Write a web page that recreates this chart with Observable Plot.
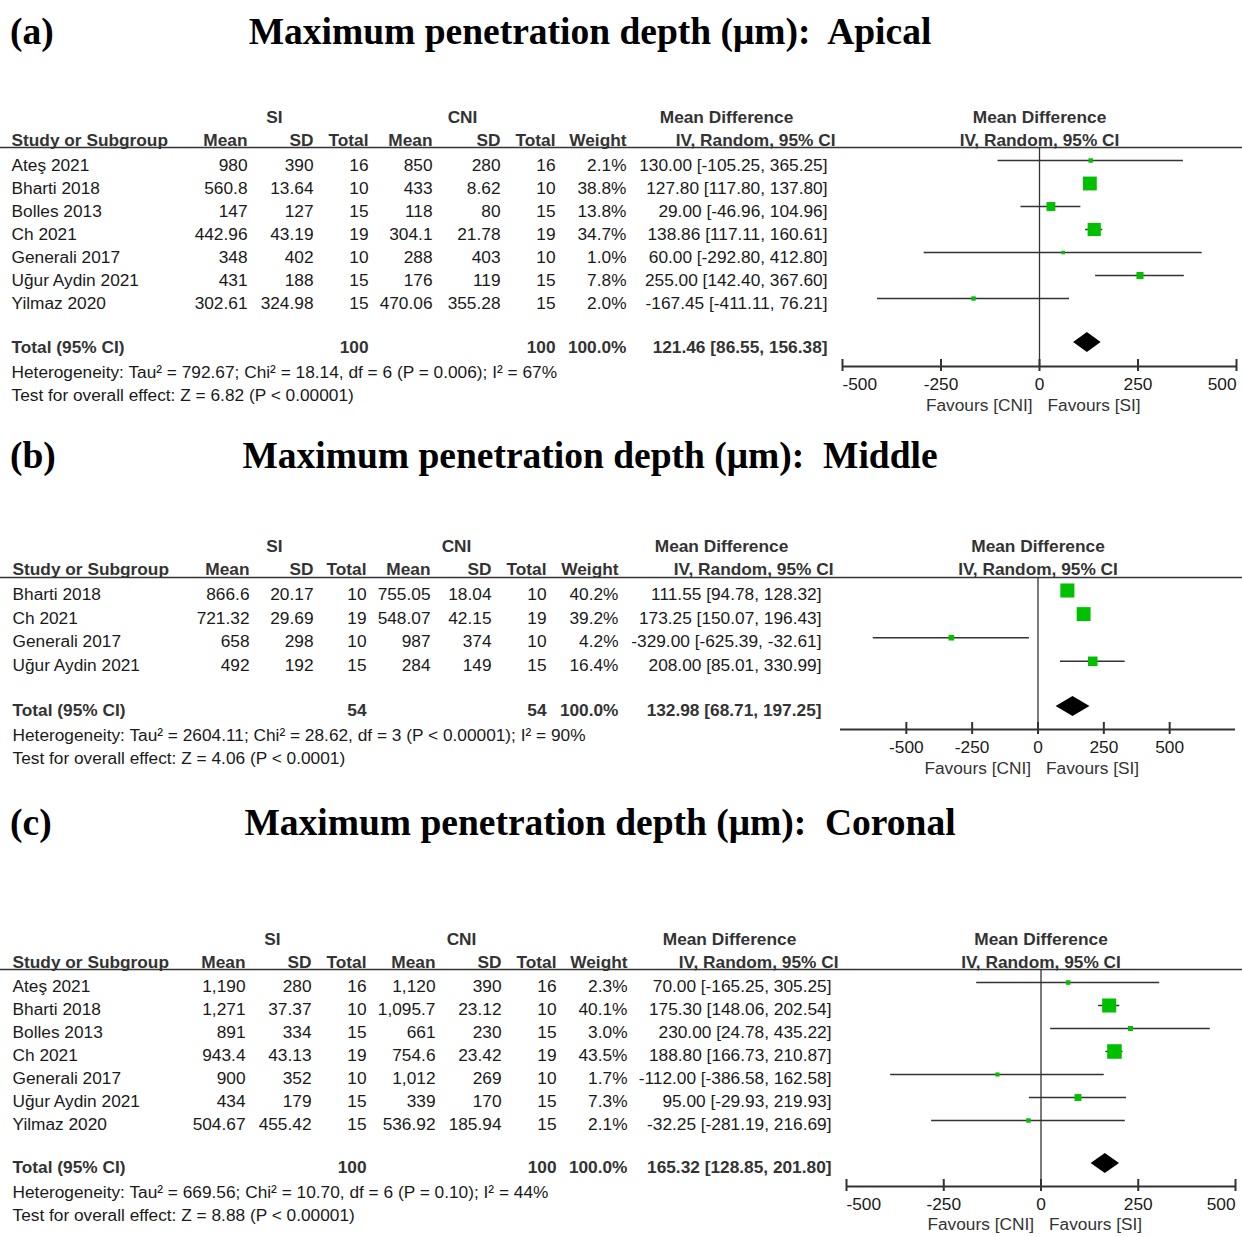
<!DOCTYPE html>
<html><head><meta charset="utf-8">
<script src="https://cdn.jsdelivr.net/npm/d3@7"></script>
<script src="https://cdn.jsdelivr.net/npm/@observablehq/plot@0.6"></script>
<style>
body{margin:0;background:#fff;}
#root{position:relative;width:1242px;height:1237px;overflow:hidden;background:#fff;}
.ttl{position:absolute;font-family:"Liberation Serif","Times New Roman",serif;font-weight:bold;font-size:37.5px;color:#000;white-space:pre;line-height:1;}
.panel{position:absolute;left:0;}
.panel svg{overflow:visible;}
</style></head><body><div id="root"></div>
<script>
// ---------------- DATA ----------------
// (a) Apical
const apicalStudies = ["Ateş 2021","Bharti 2018","Bolles 2013","Ch 2021","Generali 2017","Uğur Aydin 2021","Yilmaz 2020"];
const apicalSiMean  = ["980","560.8","147","442.96","348","431","302.61"];
const apicalSiSD    = ["390","13.64","127","43.19","402","188","324.98"];
const apicalSiN     = [16,10,15,19,10,15,15];
const apicalCniMean = ["850","433","118","304.1","288","176","470.06"];
const apicalCniSD   = ["280","8.62","80","21.78","403","119","355.28"];
const apicalCniN    = [16,10,15,19,10,15,15];
const apicalWeight  = [2.1,38.8,13.8,34.7,1.0,7.8,2.0];
const apicalMD      = [130.00,127.80,29.00,138.86,60.00,255.00,-167.45];
const apicalLo      = [-105.25,117.80,-46.96,117.11,-292.80,142.40,-411.11];
const apicalHi      = [365.25,137.80,104.96,160.61,412.80,367.60,76.21];
const apicalTotal   = [121.46,86.55,156.38];
const apicalHet     = "Heterogeneity: Tau² = 792.67; Chi² = 18.14, df = 6 (P = 0.006); I² = 67%";
const apicalTest    = "Test for overall effect: Z = 6.82 (P < 0.00001)";

// (b) Middle
const middleStudies = ["Bharti 2018","Ch 2021","Generali 2017","Uğur Aydin 2021"];
const middleSiMean  = ["866.6","721.32","658","492"];
const middleSiSD    = ["20.17","29.69","298","192"];
const middleSiN     = [10,19,10,15];
const middleCniMean = ["755.05","548.07","987","284"];
const middleCniSD   = ["18.04","42.15","374","149"];
const middleCniN    = [10,19,10,15];
const middleWeight  = [40.2,39.2,4.2,16.4];
const middleMD      = [111.55,173.25,-329.00,208.00];
const middleLo      = [94.78,150.07,-625.39,85.01];
const middleHi      = [128.32,196.43,-32.61,330.99];
const middleTotal   = [132.98,68.71,197.25];
const middleHet     = "Heterogeneity: Tau² = 2604.11; Chi² = 28.62, df = 3 (P < 0.00001); I² = 90%";
const middleTest    = "Test for overall effect: Z = 4.06 (P < 0.0001)";

// (c) Coronal
const coronalStudies = ["Ateş 2021","Bharti 2018","Bolles 2013","Ch 2021","Generali 2017","Uğur Aydin 2021","Yilmaz 2020"];
const coronalSiMean  = ["1,190","1,271","891","943.4","900","434","504.67"];
const coronalSiSD    = ["280","37.37","334","43.13","352","179","455.42"];
const coronalSiN     = [16,10,15,19,10,15,15];
const coronalCniMean = ["1,120","1,095.7","661","754.6","1,012","339","536.92"];
const coronalCniSD   = ["390","23.12","230","23.42","269","170","185.94"];
const coronalCniN    = [16,10,15,19,10,15,15];
const coronalWeight  = [2.3,40.1,3.0,43.5,1.7,7.3,2.1];
const coronalMD      = [70.00,175.30,230.00,188.80,-112.00,95.00,-32.25];
const coronalLo      = [-165.25,148.06,24.78,166.73,-386.58,-29.93,-281.19];
const coronalHi      = [305.25,202.54,435.22,210.87,162.58,219.93,216.69];
const coronalTotal   = [165.32,128.85,201.80];
const coronalHet     = "Heterogeneity: Tau² = 669.56; Chi² = 10.70, df = 6 (P = 0.10); I² = 44%";
const coronalTest    = "Test for overall effect: Z = 8.88 (P < 0.00001)";

const totalWeight = 100.0;
const axisTicks = [-500,-250,0,250,500];
const titles = ["Maximum penetration depth (μm):  Apical","Maximum penetration depth (μm):  Middle","Maximum penetration depth (μm):  Coronal"];
const panelLabels = ["(a)","(b)","(c)"];

// ---------------- LAYOUT / STYLE ----------------
const FONT = '"Liberation Sans", Arial, Helvetica, sans-serif';
const FS = 17.3;
const GREEN = "#00c000";
const INK = "#1a1a1a";
const HEAD = "#333333";
const LINE = "#333333";

const layouts = [
  {top:100, h:320, rowTop:165, step:23, si:117, hdr:140, line:147, total:347, het:372, test:395,
   axis:366, tickLab:384, fav:405, mdy:-5, half:10, xDomain:[-500,500], xRange:[842,1236], axisExt:[-500,500],
   titleX:590, titleBase:44,
   cols:{study:11, siMean:247, siSD:313, siN:368, cniMean:432, cniSD:500, cniN:555, weight:626, md:827,
         ivHdr:835, mdHdr:726, si:274, cni:462}},
  {top:520, h:265, rowTop:594, step:23.6, si:546, hdr:569, line:577, total:710, het:735, test:758,
   axis:729, tickLab:747, fav:768, mdy:-4, half:10, xDomain:[-750,750], xRange:[840,1235], axisExt:[-750,750],
   titleX:590, titleBase:468,
   cols:{study:12, siMean:249, siSD:313, siN:366, cniMean:430, cniSD:491, cniN:546, weight:618, md:821,
         ivHdr:833, mdHdr:721, si:274, cni:456}},
  {top:915, h:322, rowTop:986, step:23, si:939, hdr:962, line:969, total:1167, het:1192, test:1215,
   axis:1186, tickLab:1204, fav:1224, mdy:-4, half:10, xDomain:[-500,500], xRange:[846,1235], axisExt:[-500,500],
   titleX:600, titleBase:835,
   cols:{study:12, siMean:245, siSD:311, siN:366, cniMean:435, cniSD:501, cniN:556, weight:627, md:831,
         ivHdr:838, mdHdr:729, si:272, cni:461}}
];

const datasets = [
  {studies:apicalStudies, siMean:apicalSiMean, siSD:apicalSiSD, siN:apicalSiN, cniMean:apicalCniMean, cniSD:apicalCniSD, cniN:apicalCniN,
   weight:apicalWeight, md:apicalMD, lo:apicalLo, hi:apicalHi, total:apicalTotal, het:apicalHet, test:apicalTest},
  {studies:middleStudies, siMean:middleSiMean, siSD:middleSiSD, siN:middleSiN, cniMean:middleCniMean, cniSD:middleCniSD, cniN:middleCniN,
   weight:middleWeight, md:middleMD, lo:middleLo, hi:middleHi, total:middleTotal, het:middleHet, test:middleTest},
  {studies:coronalStudies, siMean:coronalSiMean, siSD:coronalSiSD, siN:coronalSiN, cniMean:coronalCniMean, cniSD:coronalCniSD, cniN:coronalCniN,
   weight:coronalWeight, md:coronalMD, lo:coronalLo, hi:coronalHi, total:coronalTotal, het:coronalHet, test:coronalTest}
];

// ---------------- BUILD ----------------
const f2 = v => v.toFixed(2);
const ciText = (m, l, h) => `${f2(m)} [${f2(l)}, ${f2(h)}]`;
const sum = a => a.reduce((s, v) => s + v, 0);

function buildPanel(d, L) {
  const rows = d.studies.map((s, i) => ({
    i, study: s, siMean: d.siMean[i], siSD: d.siSD[i], siN: String(d.siN[i]),
    cniMean: d.cniMean[i], cniSD: d.cniSD[i], cniN: String(d.cniN[i]),
    weight: d.weight[i], wTxt: d.weight[i].toFixed(1) + "%",
    md: d.md[i], lo: d.lo[i], hi: d.hi[i], ci: ciText(d.md[i], d.lo[i], d.hi[i])
  }));
  const R = px => (px - L.rowTop) / L.step;
  const C = L.cols;
  const yTot = R(L.total);
  const one = (t, y, dx, anchor, extra = {}) =>
    Plot.text([t], {y: () => y, text: v => v, frameAnchor: "left", dx, textAnchor: anchor, fill: INK, fontSize: FS, ...extra});
  const col = (key, dx, anchor) =>
    Plot.text(rows, {y: "i", text: key, frameAnchor: "left", dx, textAnchor: anchor, fill: INK, fontSize: FS});
  const bold = {fontWeight: "bold", fill: HEAD};
  const yS = R(L.si), yH = R(L.hdr);

  const diamond = [
    {x: d.total[1], y1: yTot, y2: yTot},
    {x: d.total[0], y1: yTot - L.half / L.step, y2: yTot + L.half / L.step},
    {x: d.total[2], y1: yTot, y2: yTot}
  ];
  const leftEnd = axisTicks.filter(t => t === L.axisExt[0]);
  const rightEnd = axisTicks.filter(t => t === L.axisExt[1]);
  const midTicks = axisTicks.filter(t => t !== L.axisExt[0] && t !== L.axisExt[1]);
  const tickLab = (data, anchor) =>
    Plot.text(data, {x: v => v, y: () => R(L.tickLab), text: v => String(v), textAnchor: anchor, fill: INK, fontSize: FS});

  const marks = [
    // header rule across the full width
    Plot.ruleY([R(L.line)], {stroke: LINE, strokeWidth: 1.5}),
    // group headers
    one("SI", yS, C.si, "middle", bold),
    one("CNI", yS, C.cni, "middle", bold),
    one("Mean Difference", yS, C.mdHdr, "middle", bold),
    Plot.text(["Mean Difference"], {x: () => 0, y: () => yS, text: v => v, textAnchor: "middle", fontSize: FS, ...bold}),
    // column headers
    one("Study or Subgroup", yH, C.study, "start", bold),
    one("Mean", yH, C.siMean, "end", bold),
    one("SD", yH, C.siSD, "end", bold),
    one("Total", yH, C.siN, "end", bold),
    one("Mean", yH, C.cniMean, "end", bold),
    one("SD", yH, C.cniSD, "end", bold),
    one("Total", yH, C.cniN, "end", bold),
    one("Weight", yH, C.weight, "end", bold),
    one("IV, Random, 95% CI", yH, C.ivHdr, "end", bold),
    Plot.text(["IV, Random, 95% CI"], {x: () => 0, y: () => yH, text: v => v, textAnchor: "middle", fontSize: FS, ...bold}),
    // study rows
    col("study", C.study, "start"),
    col("siMean", C.siMean, "end"),
    col("siSD", C.siSD, "end"),
    col("siN", C.siN, "end"),
    col("cniMean", C.cniMean, "end"),
    col("cniSD", C.cniSD, "end"),
    col("cniN", C.cniN, "end"),
    col("wTxt", C.weight, "end"),
    col("ci", C.md, "end"),
    // total row
    one("Total (95% CI)", yTot, C.study, "start", bold),
    one(String(sum(d.siN)), yTot, C.siN, "end", bold),
    one(String(sum(d.cniN)), yTot, C.cniN, "end", bold),
    one(totalWeight.toFixed(1) + "%", yTot, C.weight, "end", bold),
    one(ciText(...d.total), yTot, C.md, "end", bold),
    // heterogeneity and overall test
    one(d.het, R(L.het), C.study, "start"),
    one(d.test, R(L.test), C.study, "start"),
    // forest: zero line
    Plot.ruleX([0], {x: v => v, y1: () => R(L.line), y2: () => R(L.axis), stroke: LINE, strokeWidth: 1.3}),
    // confidence intervals
    Plot.ruleY(rows, {y: "i", x1: "lo", x2: "hi", dy: L.mdy, stroke: LINE, strokeWidth: 1.5}),
    // study squares
    Plot.dot(rows, {x: "md", y: "i", r: "weight", symbol: "square", fill: GREEN, dy: L.mdy}),
    // pooled diamond
    Plot.areaY(diamond, {x: "x", y1: "y1", y2: "y2", fill: "#000", dy: L.mdy}),
    // axis
    Plot.ruleY([R(L.axis)], {x1: L.axisExt[0], x2: L.axisExt[1], stroke: LINE, strokeWidth: 2}),
    Plot.ruleX(axisTicks, {x: v => v, y1: () => R(L.axis - 7), y2: () => R(L.axis + 5), stroke: LINE, strokeWidth: 2}),
    tickLab(midTicks, "middle"),
    tickLab(leftEnd, "start"),
    tickLab(rightEnd, "end"),
    Plot.text(["Favours [CNI]"], {x: () => 0, y: () => R(L.fav), text: v => v, textAnchor: "end", dx: -7, fill: HEAD, fontSize: FS}),
    Plot.text(["Favours [SI]"], {x: () => 0, y: () => R(L.fav), text: v => v, textAnchor: "start", dx: 8, fill: HEAD, fontSize: FS})
  ];

  return Plot.plot({
    width: 1242, height: L.h, margin: 0,
    x: {domain: L.xDomain, range: L.xRange, axis: null},
    y: {domain: [0, 1], range: [L.rowTop - L.top, L.rowTop - L.top + L.step], axis: null},
    r: {type: "sqrt", domain: [0, 100], range: [0.9, 12]},
    style: {fontFamily: FONT, fontSize: FS + "px", color: INK, background: "transparent", overflow: "visible"},
    marks
  });
}

const root = document.getElementById("root");
layouts.forEach((L, k) => {
  const lab = document.createElement("div");
  lab.className = "ttl";
  lab.textContent = panelLabels[k];
  lab.style.left = "10px";
  lab.style.top = (L.titleBase - 31.4) + "px";
  root.appendChild(lab);

  const t = document.createElement("div");
  t.className = "ttl";
  t.textContent = titles[k];
  t.style.left = L.titleX + "px";
  t.style.top = (L.titleBase - 31.4) + "px";
  t.style.transform = "translateX(-50%)";
  root.appendChild(t);

  const p = document.createElement("div");
  p.className = "panel";
  p.style.top = L.top + "px";
  p.appendChild(buildPanel(datasets[k], L));
  root.appendChild(p);
});
</script>
</body></html>
